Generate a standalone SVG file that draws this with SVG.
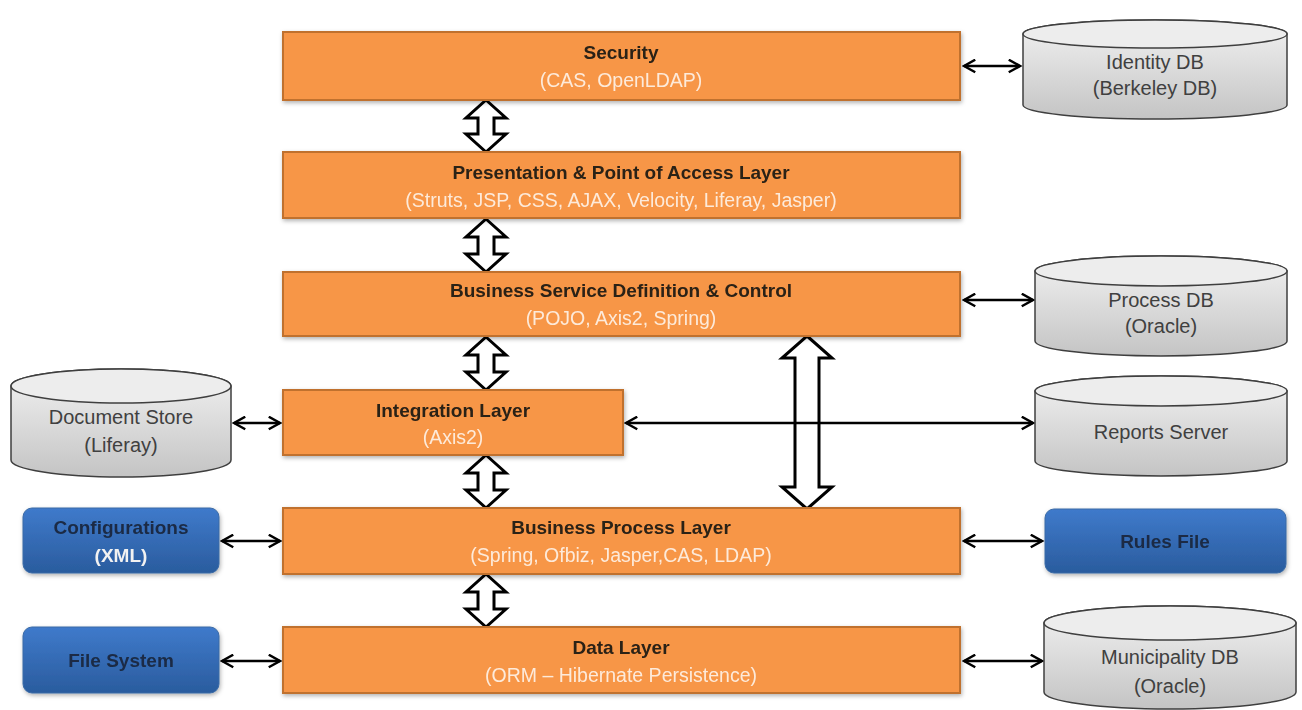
<svg xmlns="http://www.w3.org/2000/svg" width="1302" height="710" viewBox="0 0 1302 710">
<style>
  .layer{fill:#F79646;stroke:#C0712F;stroke-width:2}
  .blue{fill:url(#gBlue);stroke:#3A6AA5;stroke-width:1}
  .cyl{fill:url(#gCyl);stroke:#3F3F3F;stroke-width:1.5}
  .cyltop{fill:#EDEDED;stroke:#3F3F3F;stroke-width:1.5}
  text{font-family:"Liberation Sans",Arial,sans-serif;font-size:19px;text-anchor:middle}
  .t{fill:#2B2118;font-weight:bold}
  .s{fill:#FDEADA;font-size:19.5px}
  .c{fill:#404040;font-size:20px}
  .b{fill:#1A2B44;font-weight:bold}
  .bs{fill:#F2F2F2;font-weight:bold}
  .thin{stroke:#000;stroke-width:2.5;fill:none;marker-start:url(#ah);marker-end:url(#ah)}
  .block{fill:#FFFFFF;stroke:#000;stroke-width:3;stroke-linejoin:miter}
</style>
<defs>
  <linearGradient id="gBlue" x1="0" y1="0" x2="0" y2="1">
    <stop offset="0" stop-color="#3F7ACB"/>
    <stop offset="1" stop-color="#2A5C9E"/>
  </linearGradient>
  <linearGradient id="gCyl" x1="0" y1="0" x2="0" y2="1">
    <stop offset="0" stop-color="#F2F2F2"/>
    <stop offset="1" stop-color="#C4C4C4"/>
  </linearGradient>
  <filter id="sh" x="-5%" y="-10%" width="110%" height="130%">
    <feDropShadow dx="1" dy="2" stdDeviation="2" flood-color="#000" flood-opacity="0.3"/>
  </filter>
  <marker id="ah" viewBox="0 0 12 12" refX="10" refY="6" markerWidth="6" markerHeight="6" orient="auto-start-reverse" markerUnits="strokeWidth">
    <path d="M1,1 L10,6 L1,11" fill="none" stroke="#000" stroke-width="2"/>
  </marker>
</defs>

<g id="connectors">
  <path class="block" d="M486,100 L506,118 L494,118 L494,134 L506,134 L486,152 L466,134 L478,134 L478,118 L466,118 Z"/>
  <path class="block" d="M486,219 L506,237 L494,237 L494,254 L506,254 L486,272 L466,254 L478,254 L478,237 L466,237 Z"/>
  <path class="block" d="M486,337 L506,355 L494,355 L494,372 L506,372 L486,390 L466,372 L478,372 L478,355 L466,355 Z"/>
  <path class="block" d="M486,455 L506,473 L494,473 L494,490 L506,490 L486,508 L466,490 L478,490 L478,473 L466,473 Z"/>
  <path class="block" d="M486,574 L506,592 L494,592 L494,609 L506,609 L486,627 L466,609 L478,609 L478,592 L466,592 Z"/>
  <path class="block" d="M807,336 L832,358 L819,358 L819,487 L832,487 L807,509 L782,487 L795,487 L795,358 L782,358 Z"/>
  <line class="thin" x1="964" y1="66" x2="1020" y2="66"/>
  <line class="thin" x1="964" y1="300" x2="1033" y2="300"/>
  <line class="thin" x1="234" y1="423" x2="280" y2="423"/>
  <line class="thin" x1="626" y1="423" x2="1033" y2="423"/>
  <line class="thin" x1="222" y1="541" x2="280" y2="541"/>
  <line class="thin" x1="964" y1="541" x2="1042" y2="541"/>
  <line class="thin" x1="222" y1="661" x2="280" y2="661"/>
  <line class="thin" x1="964" y1="661" x2="1042" y2="661"/>
</g>

<g id="security" filter="url(#sh)">
  <rect class="layer" x="283" y="32" width="677" height="68"/>
  <text class="t" x="621" y="59">Security</text>
  <text class="s" x="621" y="87">(CAS, OpenLDAP)</text>
</g>
<g id="presentation" filter="url(#sh)">
  <rect class="layer" x="283" y="152" width="677" height="66"/>
  <text class="t" x="621" y="179">Presentation &amp; Point of Access Layer</text>
  <text class="s" x="621" y="207">(Struts, JSP, CSS, AJAX, Velocity, Liferay, Jasper)</text>
</g>
<g id="business-service" filter="url(#sh)">
  <rect class="layer" x="283" y="272" width="677" height="64"/>
  <text class="t" x="621" y="297">Business Service Definition &amp; Control</text>
  <text class="s" x="621" y="325">(POJO, Axis2, Spring)</text>
</g>
<g id="integration" filter="url(#sh)">
  <rect class="layer" x="283" y="390" width="340" height="65"/>
  <text class="t" x="453" y="417">Integration Layer</text>
  <text class="s" x="453" y="444">(Axis2)</text>
</g>
<g id="business-process" filter="url(#sh)">
  <rect class="layer" x="283" y="508" width="677" height="66"/>
  <text class="t" x="621" y="534">Business Process Layer</text>
  <text class="s" x="621" y="562">(Spring,  Ofbiz, Jasper,CAS, LDAP)</text>
</g>
<g id="data-layer" filter="url(#sh)">
  <rect class="layer" x="283" y="627" width="677" height="66"/>
  <text class="t" x="621" y="654">Data Layer</text>
  <text class="s" x="621" y="682">(ORM – Hibernate Persistence)</text>
</g>

<g id="identity-db">
  <path class="cyl" d="M1023,34 A132,14 0 0 1 1287,34 V105 A132,14 0 0 1 1023,105 Z"/>
  <ellipse class="cyltop" cx="1155" cy="34" rx="132" ry="14"/>
  <text class="c" x="1155" y="69">Identity DB</text>
  <text class="c" x="1155" y="95">(Berkeley DB)</text>
</g>
<g id="process-db">
  <path class="cyl" d="M1035,271 A126,15 0 0 1 1287,271 V341 A126,15 0 0 1 1035,341 Z"/>
  <ellipse class="cyltop" cx="1161" cy="271" rx="126" ry="15"/>
  <text class="c" x="1161" y="307">Process DB</text>
  <text class="c" x="1161" y="333">(Oracle)</text>
</g>
<g id="document-store">
  <path class="cyl" d="M11,386 A110,17 0 0 1 231,386 V460 A110,17 0 0 1 11,460 Z"/>
  <ellipse class="cyltop" cx="121" cy="386" rx="110" ry="17"/>
  <text class="c" x="121" y="424">Document Store</text>
  <text class="c" x="121" y="452">(Liferay)</text>
</g>
<g id="reports-server">
  <path class="cyl" d="M1035,391 A126,15 0 0 1 1287,391 V461 A126,15 0 0 1 1035,461 Z"/>
  <ellipse class="cyltop" cx="1161" cy="391" rx="126" ry="15"/>
  <text class="c" x="1161" y="439">Reports Server</text>
</g>
<g id="municipality-db">
  <path class="cyl" d="M1044,623 A126,17 0 0 1 1296,623 V692 A126,17 0 0 1 1044,692 Z"/>
  <ellipse class="cyltop" cx="1170" cy="623" rx="126" ry="17"/>
  <text class="c" x="1170" y="664">Municipality DB</text>
  <text class="c" x="1170" y="693">(Oracle)</text>
</g>

<g id="configurations" filter="url(#sh)">
  <rect class="blue" x="23" y="508" width="196" height="65" rx="9"/>
  <text class="b" x="121" y="534">Configurations</text>
  <text class="bs" x="121" y="562">(XML)</text>
</g>
<g id="rules-file" filter="url(#sh)">
  <rect class="blue" x="1045" y="509" width="241" height="64" rx="9"/>
  <text class="b" x="1165" y="548">Rules File</text>
</g>
<g id="file-system" filter="url(#sh)">
  <rect class="blue" x="23" y="627" width="196" height="66" rx="9"/>
  <text class="b" x="121" y="667">File System</text>
</g>
</svg>
